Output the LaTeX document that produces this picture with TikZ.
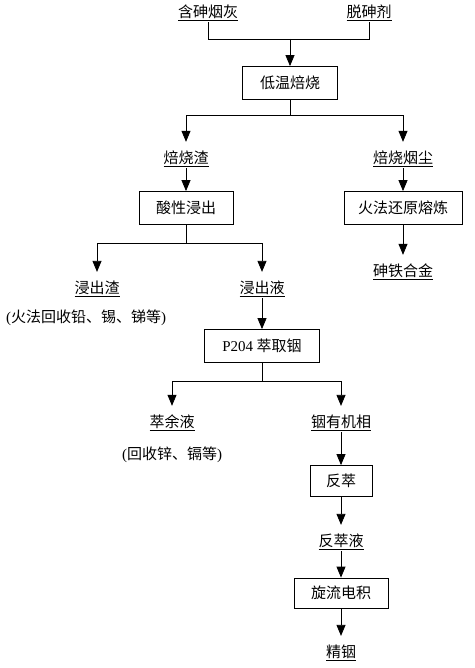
\documentclass[tikz,border=0pt]{standalone}
\usepackage{fontspec}
\setmainfont{Noto Sans CJK SC}
\newfontfamily\lat{Liberation Serif}
\usetikzlibrary{arrows.meta}
\tikzset{
  lbl/.style={inner sep=1pt, font=\fontsize{15}{17}\selectfont},
  box/.style={draw, line width=0.8pt, inner sep=0pt, minimum height=33pt, font=\fontsize{15}{17}\selectfont},
  ln/.style={line width=0.8pt},
  arr/.style={line width=0.8pt, -{Triangle[length=11pt,width=9pt]}},
}
\begin{document}
\begin{tikzpicture}[x=1pt,y=-1pt]
\useasboundingbox (0,0) rectangle (474,668);
% labels
\node[lbl] (n1) at (208,13) {\underline{含砷烟灰}};
\node[lbl] (n2) at (369,13) {\underline{脱砷剂}};
\node[box, minimum width=95pt] (b1) at (290,83) {低温焙烧};
\node[lbl] (n3) at (186,159) {\underline{焙烧渣}};
\node[lbl] (n4) at (403,159) {\underline{焙烧烟尘}};
\node[box, minimum width=94pt] (b2) at (186,208) {酸性浸出};
\node[box, minimum width=118pt] (b3) at (403,208) {火法还原熔炼};
\node[lbl] (n5) at (97,289) {\underline{浸出渣}};
\node[lbl] (n6) at (262,289) {\underline{浸出液}};
\node[lbl] (n7) at (86,318) {{\lat(}火法回收铅、锡、锑等{\lat)}};
\node[lbl] (n8) at (403,272) {\underline{砷铁合金}};
\node[box, minimum width=115pt] (b4) at (262,346) {{\lat P204} 萃取铟};
\node[lbl] (n9) at (172,423) {\underline{萃余液}};
\node[lbl] (n10) at (172,455) {{\lat(}回收锌、镉等{\lat)}};
\node[lbl] (n11) at (341,423) {\underline{铟有机相}};
\node[box, minimum width=62pt, minimum height=31pt] (b5) at (341,481) {反萃};
\node[lbl] (n12) at (341,542) {\underline{反萃液}};
\node[box, minimum width=94pt, minimum height=30pt] (b6) at (341,593) {旋流电积};
\node[lbl] (n13) at (341,653) {\underline{精铟}};
% junctions
\coordinate (j1) at (290,39);
\coordinate (j2) at (290,115);
\coordinate (j3) at (186,243);
\coordinate (j4) at (262,381);
% connectors
\draw[ln] (n1.south) |- (j1);
\draw[ln] (n2.south) |- (j1);
\draw[arr] (j1) -- (b1.north);
\draw[ln] (b1.south) -- (j2);
\draw[arr, shorten >=8pt] (j2) -| (n3.north);
\draw[arr, shorten >=8pt] (j2) -| (n4.north);
\draw[arr] (n3.south) -- (b2.north);
\draw[arr] (n4.south) -- (b3.north);
\draw[ln] (b2.south) -- (j3);
\draw[arr, shorten >=8pt] (j3) -| (n5.north);
\draw[arr, shorten >=8pt] (j3) -| (n6.north);
\draw[arr, shorten >=8pt] (b3.south) -- (n8.north);
\draw[arr] (n6.south) -- (b4.north);
\draw[ln] (b4.south) -- (j4);
\draw[arr, shorten >=8pt] (j4) -| (n9.north);
\draw[arr, shorten >=8pt] (j4) -| (n11.north);
\draw[arr] (n11.south) -- (b5.north);
\draw[arr, shorten >=8pt] (b5.south) -- (n12.north);
\draw[arr] (n12.south) -- (b6.north);
\draw[arr, shorten >=8pt] (b6.south) -- (n13.north);
\end{tikzpicture}
\end{document}
